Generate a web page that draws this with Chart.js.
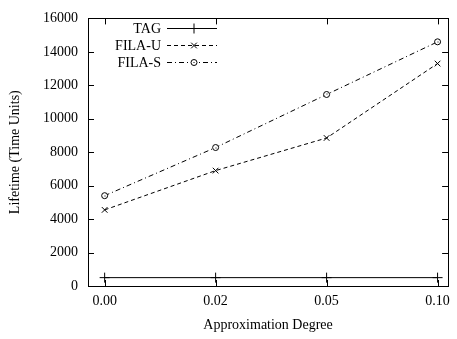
<!DOCTYPE html>
<html>
<head>
<meta charset="utf-8">
<script src="https://cdn.jsdelivr.net/npm/chart.js@4.4.1/dist/chart.umd.min.js"></script>
<style>
    html, body { margin: 0; padding: 0; background: #fff; }
    #wrap { width: 457px; height: 339px; position: relative; }
</style>
</head>
<body>
<div id="wrap"><canvas id="grafica"></canvas></div>
<script>
const grados = ['0.00', '0.02', '0.05', '0.10'];
const valoresTag = [500, 500, 500, 500];
const valoresFilaU = [4550, 6900, 8850, 13300];
const valoresFilaS = [5400, 8280, 11450, 14600];
const ticksY = [0, 2000, 4000, 6000, 8000, 10000, 12000, 14000, 16000];

const FUENTE = "'Liberation Serif', 'DejaVu Serif', serif";
const indices = grados.map((_, i) => i);

function puntos(valores) {
    return valores.map((v, i) => ({ x: i, y: v }));
}

// marco completo con marcas hacia dentro, estilo gnuplot
const marcoPlugin = {
    id: 'marco',
    afterDraw(chart) {
        const { ctx, chartArea: a, scales: { x, y } } = chart;
        const largo = 6;
        ctx.save();
        ctx.strokeStyle = '#000';
        ctx.lineWidth = 1;
        ctx.beginPath();
        ticksY.forEach(v => {
            const py = Math.round(y.getPixelForValue(v)) + 0.5;
            if (v > 0 && v < 16000) {
                ctx.moveTo(a.left, py); ctx.lineTo(a.left + largo, py);
                ctx.moveTo(a.right, py); ctx.lineTo(a.right - largo, py);
            }
        });
        indices.forEach(i => {
            const px = Math.round(x.getPixelForValue(i)) + 0.5;
            ctx.moveTo(px, a.bottom); ctx.lineTo(px, a.bottom - largo);
            ctx.moveTo(px, a.top); ctx.lineTo(px, a.top + largo);
        });
        ctx.stroke();
        ctx.strokeRect(Math.round(a.left) + 0.5, Math.round(a.top) + 0.5,
            Math.round(a.right - a.left), Math.round(a.bottom - a.top));
        ctx.restore();
    }
};

// punto central dentro de los círculos (como gnuplot)
const puntoCentralPlugin = {
    id: 'puntoCentral',
    afterDatasetsDraw(chart) {
        const { ctx } = chart;
        ctx.save();
        ctx.fillStyle = '#000';
        chart.data.datasets.forEach((ds, i) => {
            if (ds.pointStyle !== 'circle') return;
            chart.getDatasetMeta(i).data.forEach(el => {
                ctx.fillRect(Math.round(el.x) - 0.5, Math.round(el.y) - 0.5, 1, 1);
            });
        });
        ctx.restore();
    }
};

// leyenda a mano: texto alineado a la derecha, muestra de línea con marcador
const leyendaPlugin = {
    id: 'leyendaGnuplot',
    afterDraw(chart) {
        const { ctx } = chart;
        const xTexto = 161, x1 = 167, x2 = 217, xm = 194;
        const filas = [28, 45, 62];
        ctx.save();
        ctx.font = `14px ${FUENTE}`;
        ctx.textAlign = 'right';
        ctx.textBaseline = 'middle';
        chart.data.datasets.forEach((ds, i) => {
            const yy = filas[i] + 0.5;
            ctx.fillStyle = '#000';
            ctx.fillText(ds.label, xTexto, filas[i] + 1);
            ctx.strokeStyle = '#000';
            ctx.lineWidth = 1;
            ctx.setLineDash(ds.borderDash || []);
            ctx.beginPath();
            ctx.moveTo(x1, yy); ctx.lineTo(x2, yy);
            ctx.stroke();
            ctx.setLineDash([]);
            if (ds.pointStyle === 'circle') {
                ctx.fillStyle = '#fff';
                ctx.beginPath();
                ctx.arc(xm, yy, ds.pointRadius, 0, Math.PI * 2);
                ctx.fill();
                ctx.stroke();
                ctx.fillStyle = '#000';
                ctx.fillRect(xm - 0.5, yy - 0.5, 1, 1);
            } else {
                Chart.helpers.drawPoint(ctx, {
                    pointStyle: ds.pointStyle,
                    radius: ds.pointRadius,
                    borderWidth: 1
                }, xm, yy);
            }
        });
        ctx.restore();
    }
};

const ctx = document.getElementById('grafica');
new Chart(ctx, {
    type: 'line',
    data: {
        datasets: [
            {
                label: 'TAG',
                data: puntos(valoresTag),
                borderColor: '#000',
                backgroundColor: '#000',
                borderWidth: 1,
                pointStyle: 'cross',
                pointRadius: 5,
                pointBorderWidth: 1
            },
            {
                label: 'FILA-U',
                data: puntos(valoresFilaU),
                borderColor: '#000',
                backgroundColor: '#000',
                borderWidth: 1,
                borderDash: [4, 3],
                pointStyle: 'crossRot',
                pointRadius: 4,
                pointBorderWidth: 1
            },
            {
                label: 'FILA-S',
                data: puntos(valoresFilaS),
                borderColor: '#000',
                backgroundColor: '#fff',
                borderWidth: 1,
                borderDash: [5, 3, 1, 3],
                pointStyle: 'circle',
                pointRadius: 3,
                pointBorderWidth: 1
            }
        ]
    },
    options: {
        responsive: true,
        maintainAspectRatio: false,
        animation: false,
        events: [],
        layout: { padding: { top: 11, right: 4, left: 0, bottom: 0 } },
        plugins: {
            legend: { display: false },
            tooltip: { enabled: false }
        },
        scales: {
            x: {
                type: 'linear',
                min: -0.15,
                max: 3.095,
                afterBuildTicks: scale => { scale.ticks = indices.map(v => ({ value: v })); },
                afterFit: scale => { scale.height = 53; },
                grid: { display: false, drawTicks: false },
                border: { display: false },
                ticks: {
                    padding: 7,
                    color: '#000',
                    font: { family: FUENTE, size: 14 },
                    maxRotation: 0,
                    callback: v => grados[v] ?? ''
                },
                title: {
                    display: true,
                    text: 'Approximation Degree',
                    color: '#000',
                    font: { family: FUENTE, size: 14 },
                    padding: { top: 0, bottom: 5 }
                }
            },
            y: {
                min: 0,
                max: 16000,
                afterBuildTicks: scale => { scale.ticks = ticksY.map(v => ({ value: v })); },
                afterFit: scale => { scale.width = 88; },
                grid: { display: false, drawTicks: false },
                border: { display: false },
                ticks: {
                    padding: 10,
                    color: '#000',
                    font: { family: FUENTE, size: 14 },
                    callback: v => String(v)
                },
                title: {
                    display: true,
                    text: 'Lifetime (Time Units)',
                    color: '#000',
                    font: { family: FUENTE, size: 14 },
                    padding: { top: 7, bottom: 0 }
                }
            }
        }
    },
    plugins: [marcoPlugin, puntoCentralPlugin, leyendaPlugin]
});
</script>
</body>
</html>
